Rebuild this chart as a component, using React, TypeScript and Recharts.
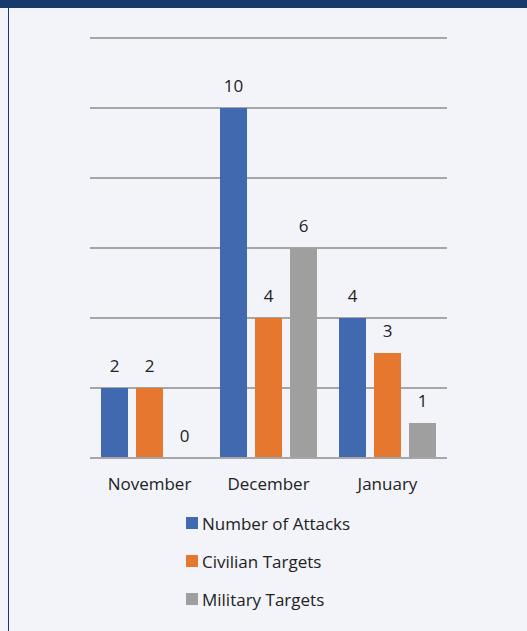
import React from 'react';
import { BarChart, Bar, XAxis, YAxis, CartesianGrid, LabelList } from 'recharts';

const months = ['November', 'December', 'January'];
const attacks = [2, 10, 4];
const civilian = [2, 4, 3];
const military = [0, 6, 1];
const yTicks = [0, 2, 4, 6, 8, 10, 12];

const SERIES = [
  { key: 'attacks', name: 'Number of Attacks', color: '#4169b0' },
  { key: 'civilian', name: 'Civilian Targets', color: '#e6772e' },
  { key: 'military', name: 'Military Targets', color: '#9f9f9f' },
];

const FONT = '"Open Sans", "Liberation Sans", sans-serif';

// draws the value above each bar, including the zero ones
const renderValue = (props: any) => {
  const { x, y, width, value } = props;
  return (
    <text
      x={Number(x) + Number(width) / 2}
      y={Number(y) - 16}
      textAnchor="middle"
      fontSize={17}
      fill="#222"
      fontFamily={FONT}
    >
      {String(value)}
    </text>
  );
};

const App: React.FC = () => {
  const data = months.map((m, i) => ({
    month: m,
    attacks: attacks[i],
    civilian: civilian[i],
    military: military[i],
  }));

  return (
    <div style={{ position: 'fixed', left: 0, top: 0, width: 527, height: 631, background: '#f2f4f9', fontFamily: FONT }}>
      <div style={{ position: 'absolute', left: 0, top: 0, width: 527, height: 8, background: '#173a6c' }} />
      <div style={{ position: 'absolute', left: 8, top: 8, width: 1, height: 623, background: '#173a6c' }} />
      <div style={{ position: 'absolute', left: 0, top: 0 }}>
        <BarChart
          width={527}
          height={500}
          data={data}
          margin={{ top: 38, right: 80, bottom: 12, left: 90 }}
          barSize={27}
          barGap={8}
        >
          <CartesianGrid vertical={false} stroke="#a6a6a6" strokeWidth={2} />
          <YAxis hide domain={[0, 12]} ticks={yTicks} />
          <XAxis
            dataKey="month"
            axisLine={{ stroke: '#a6a6a6', strokeWidth: 2 }}
            tickLine={false}
            tick={{ fontSize: 17, fill: '#222', fontFamily: FONT }}
            tickMargin={14}
          />
          {SERIES.map(s => (
            <Bar key={s.key} dataKey={s.key} fill={s.color} minPointSize={0.01} isAnimationActive={false}>
              <LabelList dataKey={s.key} content={renderValue} />
            </Bar>
          ))}
        </BarChart>
      </div>
      <div style={{ position: 'absolute', left: 186, top: 504 }}>
        {SERIES.map(s => (
          <div key={s.key} style={{ display: 'flex', alignItems: 'center', height: 38, fontSize: 17, color: '#222' }}>
            <span style={{ display: 'inline-block', width: 12, height: 12, background: s.color, marginRight: 4 }} />
            {s.name}
          </div>
        ))}
      </div>
    </div>
  );
};

export default App;
